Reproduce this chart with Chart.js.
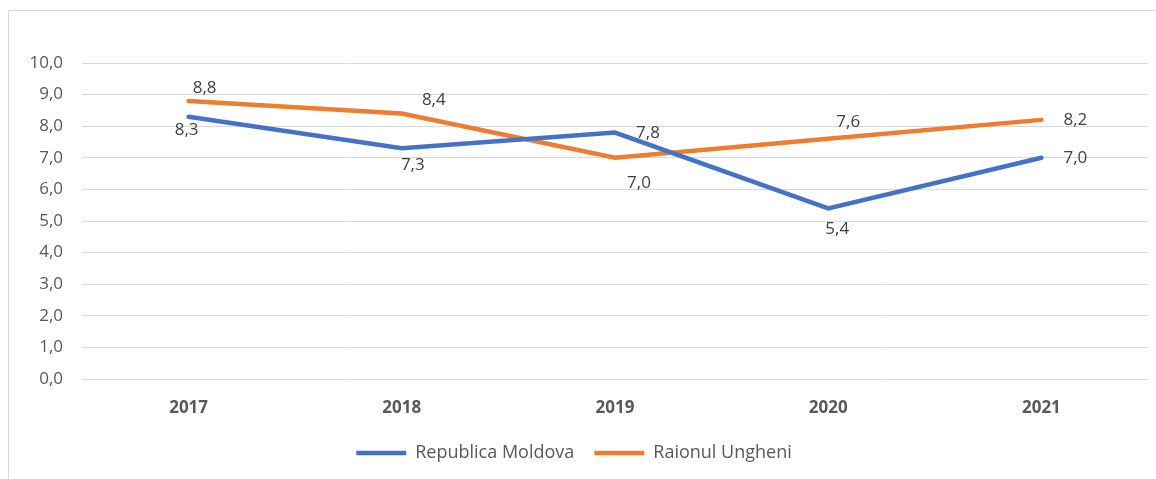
<!DOCTYPE html>
<html>
<head>
<meta charset="utf-8">
<script src="https://cdn.jsdelivr.net/npm/chart.js@4"></script>
<style>
    html, body { margin: 0; padding: 0; background: #fff; overflow: hidden; }
    #frame { position: absolute; left: 8px; top: 10px; width: 1160px; height: 480px; border: 1px solid #d9d9d9; box-sizing: border-box; }
    #wrap { position: absolute; left: 0; top: 0; width: 1156px; height: 479px; }
</style>
</head>
<body>
<div id="frame"></div>
<div id="wrap"><canvas id="myChart"></canvas></div>
<script>
const years = ['2017', '2018', '2019', '2020', '2021'];
const moldovaData = [8.3, 7.3, 7.8, 5.4, 7.0];
const ungheniData = [8.8, 8.4, 7.0, 7.6, 8.2];
const seriesNames = ['Republica Moldova', 'Raionul Ungheni'];
const yTicks = [0, 1, 2, 3, 4, 5, 6, 7, 8, 9, 10];

// where each value label sits relative to its point (dx, dy in px)
const labelOffsets = [
    [[-2, 13], [11, 17], [33, 1], [9, 21], [34, 0]],
    [[16, -13], [32, -13], [24, 25], [20, -17], [34, 0]]
];

const fmt = v => v.toFixed(1).replace('.', ',');

const valueLabels = {
    id: 'valueLabels',
    afterDatasetsDraw(chart) {
        const ctx = chart.ctx;
        ctx.save();
        ctx.font = '17px "Open Sans"';
        ctx.fillStyle = '#404040';
        ctx.textAlign = 'center';
        ctx.textBaseline = 'middle';
        chart.data.datasets.forEach((ds, i) => {
            chart.getDatasetMeta(i).data.forEach((pt, j) => {
                const off = labelOffsets[i][j];
                ctx.fillText(fmt(ds.data[j]), pt.x + off[0], pt.y + off[1]);
            });
        });
        ctx.restore();
    }
};

const ctx = document.getElementById('myChart').getContext('2d');

new Chart(ctx, {
    type: 'line',
    data: {
        labels: years,
        datasets: [{
                label: seriesNames[0],
                data: moldovaData,
                borderColor: '#4472C4',
                backgroundColor: '#4472C4',
                borderWidth: 4.5,
                borderCapStyle: 'round',
                pointRadius: 0,
                tension: 0
            },
            {
                label: seriesNames[1],
                data: ungheniData,
                borderColor: '#ED7D31',
                backgroundColor: '#ED7D31',
                borderWidth: 4.5,
                borderCapStyle: 'round',
                pointRadius: 0,
                tension: 0
            }
        ]
    },
    options: {
        responsive: true,
        maintainAspectRatio: false,
        animation: false,
        layout: {
            padding: { left: 0, right: 8, top: 63, bottom: 7 }
        },
        scales: {
            x: {
                offset: true,
                grid: { display: false },
                border: { display: false },
                ticks: {
                    color: '#595959',
                    padding: 11,
                    font: { family: '"Open Sans"', size: 17, weight: 'bold' }
                },
                afterFit: function (scale) { scale.height = 45; }
            },
            y: {
                min: 0,
                max: 10,
                afterBuildTicks: function (scale) {
                    scale.ticks = yTicks.map(v => ({ value: v }));
                },
                grid: { color: '#d9d9d9', lineWidth: 1, drawTicks: false },
                border: { display: false },
                ticks: {
                    color: '#595959',
                    padding: 19,
                    font: { family: '"Open Sans"', size: 17 },
                    callback: function (value) { return fmt(value); }
                },
                afterFit: function (scale) { scale.width = 82; }
            }
        },
        plugins: {
            legend: {
                position: 'bottom',
                labels: {
                    usePointStyle: true,
                    pointStyle: 'line',
                    pointStyleWidth: 50,
                    padding: 20,
                    color: '#595959',
                    font: { family: '"Open Sans"', size: 18 }
                }
            },
            tooltip: { enabled: false }
        }
    },
    plugins: [valueLabels]
});
</script>
</body>
</html>
